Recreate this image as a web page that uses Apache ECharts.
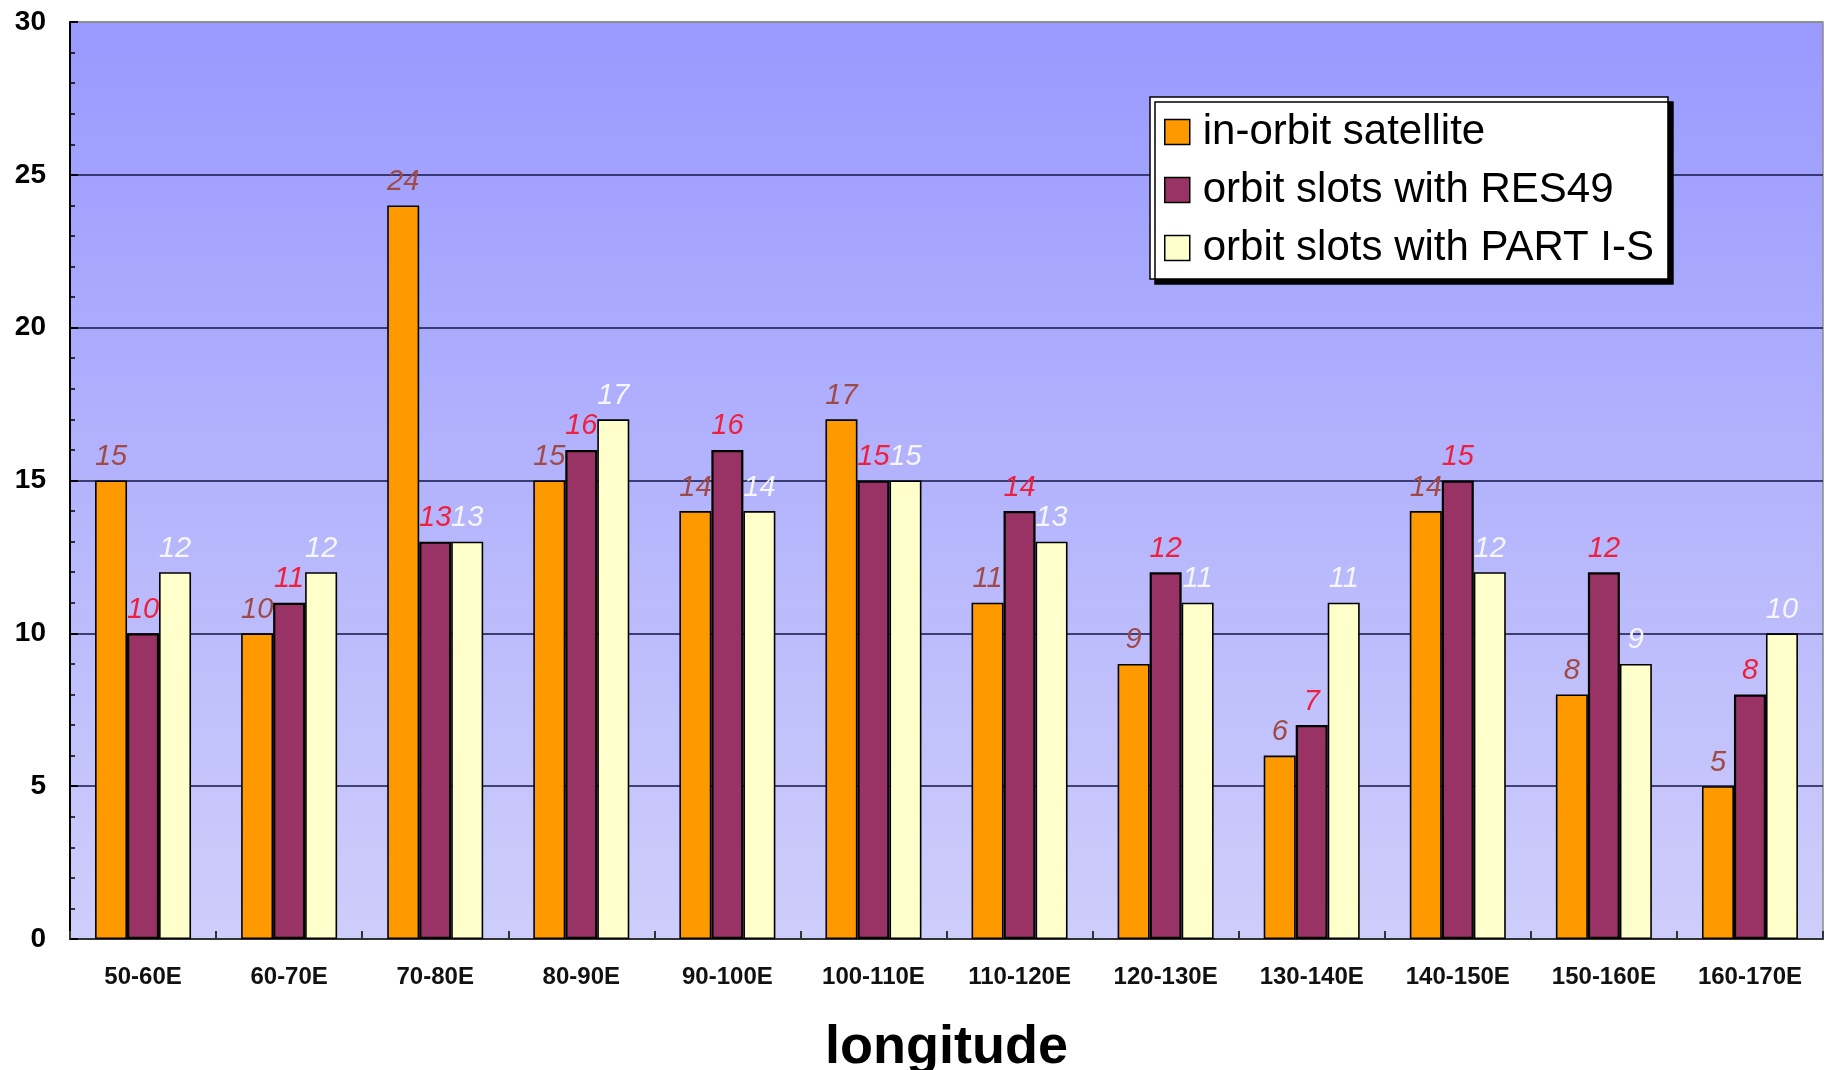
<!DOCTYPE html>
<html>
<head>
<meta charset="utf-8">
<script src="https://cdn.jsdelivr.net/npm/echarts@6/dist/echarts.min.js"></script>
<style>
html,body{margin:0;padding:0;background:#fff;}
#chart{width:1826px;height:1070px;}
</style>
</head>
<body>
<div id="chart"></div>
<script>
const categories = ['50-60E','60-70E','70-80E','80-90E','90-100E','100-110E','110-120E','120-130E','130-140E','140-150E','150-160E','160-170E'];
const inOrbit = [15,10,24,15,14,17,11,9,6,14,8,5];
const res49 = [10,11,13,16,16,15,14,12,7,15,12,8];
const partIS = [12,12,13,17,14,15,13,11,11,12,9,10];
const seriesNames = ['in-orbit satellite','orbit slots with RES49','orbit slots with PART I-S'];
const yTicks = [0,5,10,15,20,25,30];

const FONT = "'Liberation Sans', Arial, Helvetica, sans-serif";
const chart = echarts.init(document.getElementById('chart'));

function barSeries(name, data, fill, labelColor, bw) {
  return {
    name: name,
    type: 'bar',
    data: data,
    barWidth: 32,
    barGap: '0%',
    itemStyle: { color: fill, borderColor: '#000', borderWidth: bw },
    label: {
      show: true,
      position: 'top',
      distance: 9,
      color: labelColor,
      fontStyle: 'italic',
      fontSize: 29,
      fontFamily: FONT
    }
  };
}

chart.setOption({
  animation: false,
  backgroundColor: '#fff',
  grid: {
    left: 70, right: 3, top: 22, bottom: 131,
    outerBoundsMode: 'none',
    containLabel: false,
    show: true,
    borderColor: '#8a8a8a',
    borderWidth: 1.5,
    backgroundColor: {
      type: 'linear', x: 0, y: 0, x2: 0, y2: 1,
      colorStops: [
        { offset: 0, color: '#9999FF' },
        { offset: 1, color: '#CECEFB' }
      ]
    }
  },
  legend: {
    orient: 'vertical',
    left: 1150,
    top: 97,
    icon: 'rect',
    itemWidth: 25,
    itemHeight: 25,
    itemGap: 16,
    padding: [14, 14, 10, 14],
    backgroundColor: '#ffffff',
    borderColor: '#000',
    borderWidth: 1.5,
    shadowColor: '#000',
    shadowBlur: 0,
    shadowOffsetX: 5,
    shadowOffsetY: 5,
    itemStyle: { borderColor: '#000', borderWidth: 1.5 },
    textStyle: { fontSize: 42, color: '#000', fontFamily: FONT, padding: [0, 0, 0, 8] },
    data: seriesNames
  },
  xAxis: {
    type: 'category',
    data: categories,
    name: 'longitude',
    nameLocation: 'middle',
    nameGap: 82,
    nameTextStyle: { fontSize: 54, fontWeight: 'bold', color: '#000', fontFamily: FONT },
    axisLine: { lineStyle: { color: '#333', width: 2 } },
    axisTick: { show: true, inside: true, length: 8, alignWithLabel: false, lineStyle: { color: '#333', width: 2 } },
    axisLabel: { margin: 26, fontSize: 24, fontWeight: 'bold', color: '#111', fontFamily: FONT, interval: 0 },
    splitLine: { show: false }
  },
  yAxis: {
    type: 'value',
    min: yTicks[0],
    max: yTicks[yTicks.length - 1],
    interval: 5,
    axisLine: { show: true, lineStyle: { color: '#000', width: 2 } },
    axisTick: { show: true, inside: true, length: 8, lineStyle: { color: '#000', width: 2 } },
    minorTick: { show: true, splitNumber: 5, length: 5, lineStyle: { color: '#000', width: 1.5 } },
    axisLabel: { margin: 24, fontSize: 28, fontWeight: 'bold', color: '#000', fontFamily: FONT },
    splitLine: { show: true, lineStyle: { color: ['#333', '#141446', '#141446', '#141446', '#141446', '#141446', '#8a8a8a'], width: 1.6 } }
  },
  series: [
    barSeries(seriesNames[0], inOrbit, '#FF9900', '#A04A48', 1.6),
    barSeries(seriesNames[1], res49, '#993366', '#EE2040', 2.2),
    barSeries(seriesNames[2], partIS, '#FFFFCC', '#F6F6FF', 1.6)
  ]
});
</script>
</body>
</html>
